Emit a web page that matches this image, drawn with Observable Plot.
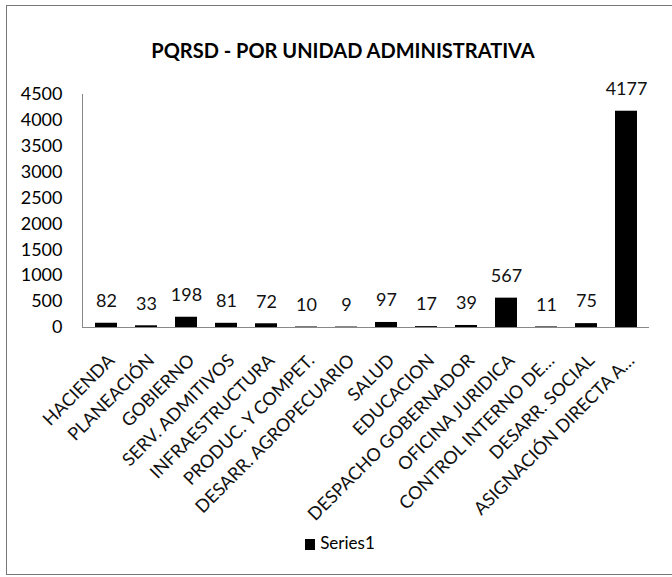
<!DOCTYPE html>
<html>
<head>
<meta charset="utf-8">
<script src="https://cdn.jsdelivr.net/npm/d3@7"></script>
<script src="https://cdn.jsdelivr.net/npm/@observablehq/plot@0.6"></script>
<style>
  html, body { margin: 0; padding: 0; background: #fff; }
  #wrap { position: relative; width: 672px; height: 577px; overflow: hidden; background: #fff; font-family: Lato, "Open Sans", sans-serif; color: #000; }
  #frame { position: absolute; left: 6px; top: 5px; width: 720px; height: 570px; border: 1px solid #777; box-sizing: border-box; pointer-events: none; }
  #title { padding-top: 38px; padding-left: 14px; height: 24px; line-height: 24px; text-align: center; font-weight: bold; font-size: 20px; }
  #chart svg { display: block; }
  #legend { height: 22px; line-height: 22px; text-align: center; font-size: 17px; padding-left: 8px; }
  #legend .sw { display: inline-block; width: 10px; height: 11px; background: #000; margin-right: 5px; vertical-align: -1px; }
</style>
</head>
<body>
<div id="wrap">
  <div id="frame"></div>
  <div id="title">PQRSD - POR UNIDAD ADMINISTRATIVA</div>
  <div id="chart"></div>
  <div id="legend"><span class="sw"></span>Series1</div>
</div>
<script>
const categories = ["HACIENDA", "PLANEACIÓN", "GOBIERNO", "SERV. ADMITIVOS", "INFRAESTRUCTURA", "PRODUC. Y COMPET.", "DESARR. AGROPECUARIO", "SALUD", "EDUCACION", "DESPACHO GOBERNADOR", "OFICINA JURIDICA", "CONTROL INTERNO DE…", "DESARR. SOCIAL", "ASIGNACIÓN DIRECTA A…"];
const values = [82, 33, 198, 81, 72, 10, 9, 97, 17, 39, 567, 11, 75, 4177];
const yTicks = [0, 500, 1000, 1500, 2000, 2500, 3000, 3500, 4000, 4500];

const data = categories.map((name, i) => ({name, value: values[i]}));

const chart = Plot.plot({
  width: 672,
  height: 470,
  marginTop: 32,
  marginLeft: 82,
  marginRight: 23,
  marginBottom: 205,
  style: {fontFamily: "Lato, 'Open Sans', sans-serif", fontSize: "18px", color: "#000", background: "transparent", overflow: "visible"},
  x: {domain: categories, paddingInner: 0.46, paddingOuter: 0.23, axis: null},
  y: {domain: [0, 4500]},
  marks: [
    Plot.axisY({ticks: yTicks, tickSize: 0, tickPadding: 20, label: null, fontSize: 18, tickFormat: d => String(d)}),
    Plot.frame({anchor: "left", stroke: "#888"}),
    Plot.barY(data, {x: "name", y: "value", fill: "#000"}),
    Plot.ruleY([0], {stroke: "#888"}),
    Plot.text(data, {x: "name", y: "value", text: d => String(d.value), dy: -22, fontSize: 18, fill: "#111"}),
    Plot.text(data, {x: "name", y: 0, text: "name", rotate: -45, textAnchor: "end", dx: 5, dy: 30, fontSize: 18, fill: "#111"})
  ]
});
document.getElementById("chart").appendChild(chart);
</script>
</body>
</html>
